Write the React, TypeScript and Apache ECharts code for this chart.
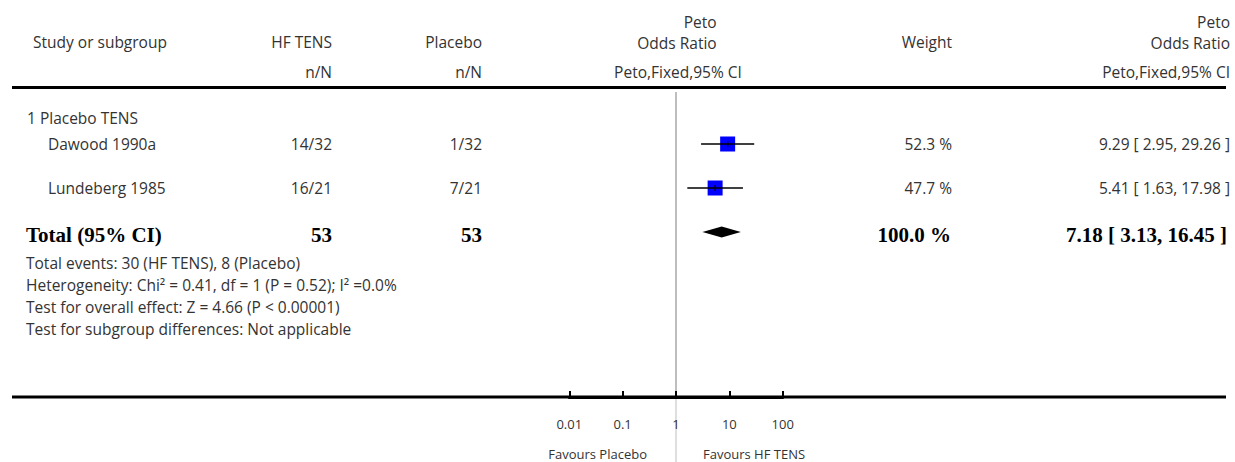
import React, { useEffect, useRef } from "react";
import * as echarts from "echarts";

// ---- data ----
const plotHeader = ["Peto", "Odds Ratio"];
const studies = ["Dawood 1990a", "Lundeberg 1985"];
const tensEvents = ["14/32", "16/21"];
const placeboEvents = ["1/32", "7/21"];
const weights = [52.3, 47.7];
const oddsRatios = [9.29, 5.41];
const ciLow = [2.95, 1.63];
const ciHigh = [29.26, 17.98];
const subgroupLabel = "1 Placebo TENS";
const totalLabel = "Total (95% CI)";
const totalN = [53, 53];
const totalWeight = 100.0;
const totalEstimate = [7.18, 3.13, 16.45];
const footnotes = [
  "Total events: 30 (HF TENS), 8 (Placebo)",
  "Heterogeneity: Chi\u00B2 = 0.41, df = 1 (P = 0.52); I\u00B2 =0.0%",
  "Test for overall effect: Z = 4.66 (P < 0.00001)",
  "Test for subgroup differences: Not applicable",
];
const tickLabels = ["0.01", "0.1", "1", "10", "100"];
const favours = ["Favours Placebo", "Favours HF TENS"];

const FONT = "'Open Sans', Lato, sans-serif";
const SERIF = "'Liberation Serif', 'Times New Roman', serif";
const TEXT = "#333";
const FS = 15.5;

const fmtCI = (o: number, l: number, h: number) =>
  `${o.toFixed(2)} [ ${l.toFixed(2)}, ${h.toFixed(2)} ]`;

export default function App() {
  const ref = useRef<HTMLDivElement>(null);
  useEffect(() => {
    document.body.style.margin = "0";
    const chart = echarts.init(ref.current!, null, { renderer: "svg" });
    const rows = studies.map((_, i) => i + 1);
    const totalRow = studies.length + 1;

    chart.setOption({
      animation: false,
      grid: { left: 569.3, width: 213.4, top: 100, height: 297, containLabel: false },
      xAxis: {
        type: "log",
        logBase: 10,
        min: 0.01,
        max: 100,
        position: "bottom",
        splitLine: { show: false },
        minorTick: { show: false },
        axisLine: { show: true, onZero: false, lineStyle: { color: "#000", width: 3 } },
        axisTick: { show: true, inside: true, length: 6, lineStyle: { color: "#000", width: 2 } },
        axisLabel: {
          margin: 20,
          fontFamily: FONT,
          fontSize: 13,
          color: TEXT,
          formatter: (v: number) => tickLabels[Math.round(Math.log10(v)) + 2] ?? "",
        },
      },
      yAxis: { type: "value", min: 0, max: 6.75, inverse: true, show: false },
      series: [
        {
          type: "scatter",
          symbol: "rect",
          symbolSize: 15,
          itemStyle: { color: "#0000ff", opacity: 1 },
          data: studies.map((_, i) => [oddsRatios[i], rows[i], weights[i]]),
          z: 2,
        },
        {
          type: "custom",
          renderItem: (_p: any, api: any) => {
            const y = api.value(2);
            const a = api.coord([api.value(0), y]);
            const b = api.coord([api.value(1), y]);
            return {
              type: "line",
              shape: { x1: a[0], y1: a[1], x2: b[0], y2: b[1] },
              style: { stroke: "#000", lineWidth: 1.5 },
            };
          },
          encode: { x: [0, 1], y: 2 },
          data: studies.map((_, i) => [ciLow[i], ciHigh[i], rows[i]]),
          z: 3,
        },
        {
          type: "scatter",
          symbol: "rect",
          symbolSize: [1.2, 6],
          itemStyle: { color: "#000", opacity: 1 },
          data: studies.map((_, i) => [oddsRatios[i], rows[i]]),
          z: 4,
        },
        {
          type: "custom",
          renderItem: (_p: any, api: any) => {
            const y = api.value(3);
            const c = api.coord([api.value(0), y]);
            const l = api.coord([api.value(1), y]);
            const r = api.coord([api.value(2), y]);
            return {
              type: "polygon",
              shape: {
                points: [
                  [l[0], l[1]],
                  [c[0], c[1] - 5.5],
                  [r[0], r[1]],
                  [c[0], c[1] + 5.5],
                ],
              },
              style: { fill: "#000" },
            };
          },
          encode: { x: [0, 1, 2], y: 3 },
          data: [[totalEstimate[0], totalEstimate[1], totalEstimate[2], totalRow]],
          z: 3,
        },
      ],
    });

    const yPix = (v: number) => chart.convertToPixel({ yAxisIndex: 0 }, v) as number;
    const xPix = (v: number) => chart.convertToPixel({ xAxisIndex: 0 }, v) as number;
    const xOne = xPix(1);
    const axisY = yPix(6.75);

    const measure = (t: string, font: string) => {
      const c = document.createElement("canvas").getContext("2d")!;
      c.font = font;
      return c.measureText(t).width;
    };

    const txt = (
      text: string,
      x: number,
      y: number,
      align: "left" | "right" | "center",
      extra: any = {}
    ) => ({
      type: "text",
      x,
      y,
      silent: true,
      style: {
        text,
        fill: TEXT,
        fontFamily: FONT,
        fontSize: FS,
        lineHeight: 16,
        align,
        textAlign: align,
        verticalAlign: "middle",
        textVerticalAlign: "middle",
        ...extra,
      },
    });
    const bold = { fontFamily: SERIF, fontWeight: "bold", fontSize: 21, lineHeight: 21, fill: "#000" };

    const midCenter = 677;
    const orW = measure(plotHeader[1], `${FS}px ${FONT}`);
    const midRight = midCenter + orW / 2;

    const graphics: any[] = [
      // header
      txt(plotHeader[0], midRight, 21.5, "right"),
      txt(plotHeader[1], midRight, 43, "right"),
      txt(plotHeader[0], 1230, 21.5, "right"),
      txt(plotHeader[1], 1230, 43, "right"),
      txt("Study or subgroup", 33, 42, "left"),
      txt("HF TENS", 332, 42, "right"),
      txt("Placebo", 482, 42, "right"),
      txt("Weight", 952, 42, "right"),
      txt("n/N", 332, 72, "right"),
      txt("n/N", 482, 72, "right"),
      txt("Peto,Fixed,95% CI", midCenter + 1, 72, "center"),
      txt("Peto,Fixed,95% CI", 1230, 72, "right"),
      {
        type: "line",
        silent: true,
        shape: { x1: 12, y1: 87.5, x2: 1226, y2: 87.5 },
        style: { stroke: "#000", lineWidth: 3 },
      },
      // vertical line of no effect
      {
        type: "line",
        silent: true,
        z: -1,
        shape: { x1: xOne, y1: 92, x2: xOne, y2: axisY },
        style: { stroke: "#a8a8a8", lineWidth: 1.5 },
      },
      {
        type: "line",
        silent: true,
        z: -1,
        shape: { x1: xOne, y1: axisY, x2: xOne, y2: 462 },
        style: { stroke: "#d4d4d4", lineWidth: 1.5 },
      },
      {
        type: "line",
        silent: true,
        z: -1,
        shape: { x1: 12, y1: axisY, x2: 1226, y2: axisY },
        style: { stroke: "#000", lineWidth: 3 },
      },
      txt(subgroupLabel, 27, 118, "left"),
    ];

    studies.forEach((s, i) => {
      const y = yPix(rows[i]) - 0.5;
      graphics.push(
        txt(s, 48, y, "left"),
        txt(tensEvents[i], 332, y, "right"),
        txt(placeboEvents[i], 482, y, "right"),
        txt(`${weights[i].toFixed(1)} %`, 952, y, "right"),
        txt(fmtCI(oddsRatios[i], ciLow[i], ciHigh[i]), 1230, y, "right")
      );
    });

    const ty = yPix(totalRow) + 2.5;
    graphics.push(
      txt(totalLabel, 26, ty, "left", bold),
      txt(String(totalN[0]), 332, ty, "right", bold),
      txt(String(totalN[1]), 482, ty, "right", bold),
      txt(`${totalWeight.toFixed(1)} %`, 951, ty, "right", bold),
      txt(fmtCI(totalEstimate[0], totalEstimate[1], totalEstimate[2]), 1227, ty, "right", bold)
    );

    footnotes.forEach((f, i) => {
      graphics.push(txt(f, 26, 263 + i * 22, "left"));
    });

    graphics.push(
      txt(favours[0], xOne - 29, 453.5, "right", { fontSize: 13, lineHeight: 13 }),
      txt(favours[1], xOne + 27, 453.5, "left", { fontSize: 13, lineHeight: 13 })
    );

    chart.setOption({ graphic: graphics });

    return () => chart.dispose();
  }, []);

  return <div ref={ref} style={{ width: 1235, height: 462 }} />;
}
